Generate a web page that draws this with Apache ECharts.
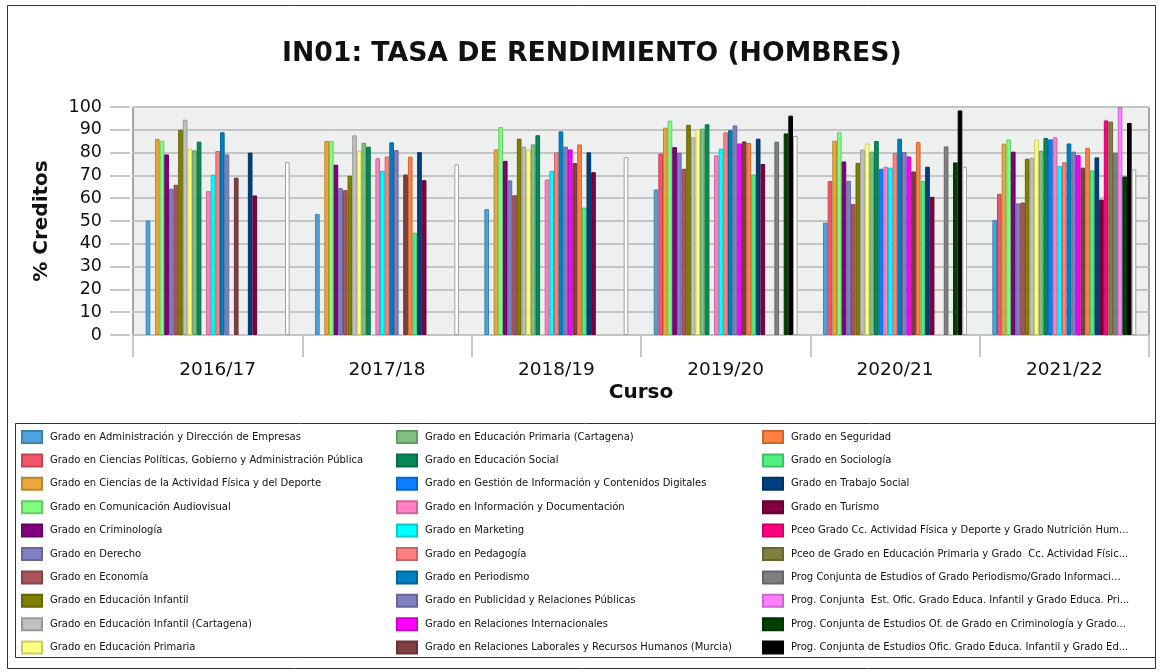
<!DOCTYPE html>
<html>
<head>
<meta charset="utf-8">
<script src="https://cdn.jsdelivr.net/npm/echarts@6/dist/echarts.min.js"></script>
<style>
  html, body { margin: 0; padding: 0; background: #fff; }
  #main { width: 1162px; height: 672px; }
</style>
</head>
<body>
<div id="main"></div>
<script>
const cursos = ['2016/17', '2017/18', '2018/19', '2019/20', '2020/21', '2021/22']

const titulaciones = [
  'Grado en Administración y Dirección de Empresas',
  'Grado en Ciencias Políticas, Gobierno y Administración Pública',
  'Grado en Ciencias de la Actividad Física y del Deporte',
  'Grado en Comunicación Audiovisual',
  'Grado en Criminología',
  'Grado en Derecho',
  'Grado en Economía',
  'Grado en Educación Infantil',
  'Grado en Educación Infantil (Cartagena)',
  'Grado en Educación Primaria',
  'Grado en Educación Primaria (Cartagena)',
  'Grado en Educación Social',
  'Grado en Gestión de Información y Contenidos Digitales',
  'Grado en Información y Documentación',
  'Grado en Marketing',
  'Grado en Pedagogía',
  'Grado en Periodismo',
  'Grado en Publicidad y Relaciones Públicas',
  'Grado en Relaciones Internacionales',
  'Grado en Relaciones Laborales y Recursos Humanos (Murcia)',
  'Grado en Seguridad',
  'Grado en Sociología',
  'Grado en Trabajo Social',
  'Grado en Turismo',
  'Pceo Grado Cc. Actividad Física y Deporte y Grado Nutrición Hum...',
  'Pceo de Grado en Educación Primaria y Grado  Cc. Actividad Físic...',
  'Prog Conjunta de Estudios of Grado Periodismo/Grado Informaci...',
  'Prog. Conjunta  Est. Ofic. Grado Educa. Infantil y Grado Educa. Pri...',
  'Prog. Conjunta de Estudios Of. de Grado en Criminología y Grado...',
  'Prog. Conjunta de Estudios Ofic. Grado Educa. Infantil y Grado Ed...',
  'Total'
]

const colores = [
  '#4fa3dc', '#f2566a', '#e8a93a', '#80fc80', '#800080', '#7f7fc4',
  '#a8545a', '#808000', '#c0c0c0', '#ffff80', '#80c080', '#088a58',
  '#0a80ff', '#ff80c0', '#00ffff', '#ff8080', '#0080c0', '#8080c0',
  '#ff00ff', '#804040', '#ff8040', '#50f080', '#004080', '#800040',
  '#ff0080', '#808040', '#808080', '#ff80ff', '#004000', '#000000',
  '#ffffff'
]

// valores por curso, en el orden de titulaciones
const v2016 = [50.2, null, 86, 85.2, 79.2, 64.1, 65.9, 90, 94.4, 81.7, 81, 84.8, null, 63.1, 70.3, 80.7, 88.9, 79.2, null, 69, null, null, 80, 61.2, null, null, null, null, null, null, 75.8]
const v2017 = [53.1, null, 85.1, 85.1, 74.7, 64.4, 63.5, 69.8, 87.6, 80.8, 84.3, 82.6, null, 77.5, 72, 78.3, 84.5, 81.1, null, 70.4, 78.2, 44.9, 80.2, 67.9, null, null, null, null, null, null, 74.8]
const v2018 = [55.2, null, 81.4, 91.2, 76.4, 67.8, 61.3, 86.1, 82.6, 81.3, 83.6, 87.6, null, 68.2, 72, 80.1, 89.3, 82.6, 81.4, 75.4, 83.6, 55.9, 80.1, 71.4, null, null, null, null, null, null, 78]
const v2019 = [63.8, 79.6, 90.9, 94, 82.4, 79.9, 72.9, 92.2, 86.7, 90.2, 90.5, 92.4, null, 78.8, 81.7, 88.9, 89.8, 91.9, 84, 84.9, 84.2, 70.4, 86.1, 75, null, null, 84.8, null, 88.4, 96.2, 87.3]
const v2020 = [49.3, 67.5, 85.2, 88.9, 76.1, 67.6, 57.4, 75.5, 81.3, 84, 80.4, 85.1, 72.9, 73.8, 73.4, 79.8, 86.1, 80.2, 78.3, 71.7, 84.6, 67.6, 73.8, 60.6, null, null, 82.7, null, 75.7, 98.5, 73.8]
const v2021 = [50.5, 61.9, 83.9, 85.7, 80.4, 57.7, 58.1, 77.3, 77.7, 85.7, 80.8, 86.4, 85.8, 86.7, 74.1, 75.8, 84, 80.4, 78.9, 73.4, 82.1, 72.2, 77.9, 59.4, 94.1, 93.6, 79.9, 100, 69.5, 93, 72.6]

const porCurso = [v2016, v2017, v2018, v2019, v2020, v2021]

const oscurecer = (hex, f) => {
  let n = parseInt(hex.slice(1), 16)
  let r = Math.round(((n >> 16) & 255) * f)
  let g = Math.round(((n >> 8) & 255) * f)
  let b = Math.round((n & 255) * f)
  return 'rgb(' + r + ',' + g + ',' + b + ')'
}

const FONT = 'DejaVu Sans'

let series = titulaciones.map((name, i) => ({
  name: name,
  type: 'bar',
  barGap: '0%',
  barCategoryGap: '15%',
  data: porCurso.map(c => c[i]),
  itemStyle: {
    color: colores[i],
    borderColor: i === 30 ? '#a0a0a0' : oscurecer(colores[i], 0.8),
    borderWidth: 1
  },
  animation: false
}))

const legendBase = {
  orient: 'vertical',
  top: 430,
  height: 240,
  padding: 0,
  itemWidth: 20,
  itemHeight: 12,
  itemGap: 9.4,
  icon: 'rect',
  selectedMode: false,
  textStyle: { fontFamily: FONT, fontSize: 10, color: '#111', padding: [0, 0, 0, 3] }
}

let option = {
  backgroundColor: '#fff',
  animation: false,
  title: {
    text: 'IN01: TASA DE RENDIMIENTO (HOMBRES)',
    left: 277,
    top: 36,
    textStyle: { fontFamily: FONT, fontSize: 26.7, fontWeight: 'bold', color: '#111' }
  },
  legend: [
    Object.assign({}, legendBase, { left: 21, data: titulaciones.slice(0, 10) }),
    Object.assign({}, legendBase, { left: 396, data: titulaciones.slice(10, 20) }),
    Object.assign({}, legendBase, { left: 762, data: titulaciones.slice(20, 30) })
  ],
  grid: {
    left: 133,
    right: 13,
    top: 107,
    bottom: 337,
    show: true,
    backgroundColor: '#eef0ef',
    borderColor: '#555',
    borderWidth: 1
  },
  xAxis: {
    type: 'category',
    data: cursos,
    offset: 2,
    name: 'Curso',
    nameLocation: 'middle',
    nameGap: 46,
    nameTextStyle: { fontFamily: FONT, fontSize: 20, fontWeight: 'bold', color: '#111' },
    axisLine: { show: false },
    axisTick: { show: true, length: 22, lineStyle: { color: '#c8c8c8', width: 2 } },
    axisLabel: { margin: 24, fontFamily: FONT, fontSize: 18.5, color: '#111' }
  },
  yAxis: {
    type: 'value',
    min: 0,
    max: 100,
    interval: 10,
    offset: 3,
    name: '% Creditos',
    nameLocation: 'middle',
    nameGap: 78,
    nameTextStyle: { fontFamily: FONT, fontSize: 20, fontWeight: 'bold', color: '#111' },
    axisLine: { show: false },
    axisTick: { show: true, length: 20, lineStyle: { color: '#c8c8c8', width: 2 } },
    axisLabel: { margin: 28, fontFamily: FONT, fontSize: 17.5, color: '#111' },
    splitLine: { lineStyle: { color: '#c4c4c4', width: 2 } }
  },
  graphic: [
    {
      type: 'rect',
      shape: { x: 7.5, y: 5.5, width: 1148, height: 663 },
      style: { fill: null, stroke: '#333', lineWidth: 1 },
      silent: true
    },
    {
      type: 'rect',
      shape: { x: 15.5, y: 423.5, width: 1140, height: 234 },
      style: { fill: null, stroke: '#333', lineWidth: 1 },
      silent: true
    }
  ],
  series: series
}

let myChart = echarts.init(document.getElementById('main'))
myChart.setOption(option)
</script>
</body>
</html>
